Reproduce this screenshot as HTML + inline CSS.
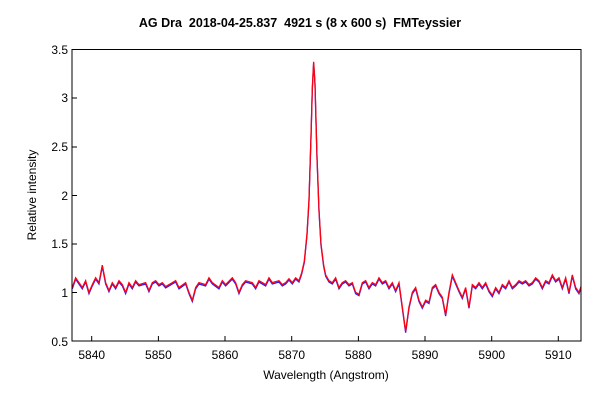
<!DOCTYPE html>
<html><head><meta charset="utf-8"><style>
body{margin:0;background:#fff;}
svg{display:block;font-family:"Liberation Sans",Arial,sans-serif;}
</style></head><body>
<svg width="600" height="400" viewBox="0 0 600 400">
<text x="300" y="27" text-anchor="middle" font-size="12.5" font-weight="bold" style="white-space:pre">AG Dra  2018-04-25.837  4921 s (8 x 600 s)  FMTeyssier</text>
<defs>
<clipPath id="c"><rect x="72" y="49" width="509" height="292"/></clipPath>
<polyline id="s" fill="none" vector-effect="non-scaling-stroke" points="0,1.05 0.5,1.15 1,1.1 1.5,1.05 2,1.12 2.5,1.0 3,1.08 3.5,1.15 4,1.1 4.5,1.28 5,1.1 5.5,1.02 6,1.1 6.5,1.05 7,1.12 7.5,1.08 8,1.0 8.5,1.1 9,1.05 9.5,1.12 10,1.08 11,1.1 11.5,1.02 12,1.1 12.5,1.12 13,1.08 13.5,1.1 14,1.06 15,1.1 15.5,1.12 16,1.05 17,1.1 17.5,1.0 18,0.92 18.5,1.05 19,1.1 20,1.08 20.5,1.15 21,1.1 22,1.05 22.5,1.12 23,1.08 24,1.15 24.5,1.1 25,1.0 25.5,1.08 26,1.12 27,1.1 27.5,1.05 28,1.12 29,1.08 29.5,1.15 30,1.1 31,1.12 31.5,1.08 32,1.1 32.5,1.14 33,1.1 33.5,1.15 34,1.12 34.4,1.2 34.8,1.32 35.2,1.6 35.5,1.95 35.8,2.6 36,3.1 36.2,3.37 36.4,3.15 36.7,2.4 37,1.85 37.3,1.5 37.7,1.28 38,1.18 38.5,1.12 39,1.1 39.5,1.15 40,1.05 40.5,1.1 41,1.12 41.5,1.08 42,1.1 42.5,1.0 43,0.98 43.5,1.1 44,1.12 44.5,1.05 45,1.1 45.5,1.08 46,1.15 46.5,1.1 47,1.12 47.5,1.05 48,1.1 48.5,1.02 49,1.1 49.5,0.85 50,0.6 50.5,0.85 51,1.0 51.5,1.05 52,0.92 52.5,0.85 53,0.92 53.5,0.9 54,1.05 54.5,1.08 55,1.0 55.5,0.95 56,0.77 56.5,1.0 57,1.18 57.5,1.1 58,1.02 58.5,0.95 59,1.05 59.5,0.85 60,1.08 60.5,1.05 61,1.1 61.5,1.05 62,1.1 62.5,1.02 63,0.97 63.5,1.05 64,1.0 64.5,1.08 65,1.05 65.5,1.12 66,1.05 66.5,1.08 67,1.12 67.5,1.1 68,1.12 68.5,1.08 69,1.1 69.5,1.15 70,1.12 70.5,1.05 71,1.12 71.5,1.1 72,1.18 72.5,1.12 73,1.15 73.5,1.05 74,1.15 74.5,1.0 75,1.18 75.5,1.05 76,1.0 76.5,1.1"/>
</defs>
<g clip-path="url(#c)">
<g transform="translate(72.3,391) scale(6.667,-97.3)"><use href="#s" stroke="#2020ff" stroke-width="1.3"/></g>
<g transform="translate(72.3,389.7) scale(6.667,-97.3)"><use href="#s" stroke="#ff0010" stroke-width="1.3"/></g>
</g>
<rect x="72" y="49.5" width="509" height="291.5" fill="none" stroke="#000" stroke-width="1"/>
<g stroke="#000" stroke-width="1">
<line x1="72" y1="98" x2="77" y2="98"/><line x1="72" y1="147" x2="77" y2="147"/><line x1="72" y1="195.5" x2="77" y2="195.5"/><line x1="72" y1="244" x2="77" y2="244"/><line x1="72" y1="292.5" x2="77" y2="292.5"/>
<line x1="91.7" y1="341" x2="91.7" y2="336"/><line x1="158.4" y1="341" x2="158.4" y2="336"/><line x1="225" y1="341" x2="225" y2="336"/><line x1="291.7" y1="341" x2="291.7" y2="336"/><line x1="358.4" y1="341" x2="358.4" y2="336"/><line x1="425" y1="341" x2="425" y2="336"/><line x1="491.7" y1="341" x2="491.7" y2="336"/><line x1="558.3" y1="341" x2="558.3" y2="336"/>
</g>
<g font-size="12" text-anchor="end">
<text x="68" y="54">3.5</text><text x="68" y="102">3</text><text x="68" y="151">2.5</text><text x="68" y="200">2</text><text x="68" y="248">1.5</text><text x="68" y="297">1</text><text x="68" y="346">0.5</text>
</g>
<g font-size="12" text-anchor="middle">
<text x="91.7" y="359">5840</text><text x="158.4" y="359">5850</text><text x="225" y="359">5860</text><text x="291.7" y="359">5870</text><text x="358.4" y="359">5880</text><text x="425" y="359">5890</text><text x="491.7" y="359">5900</text><text x="558.3" y="359">5910</text>
<text x="326" y="379">Wavelength (Angstrom)</text>
</g>
<text transform="translate(36,195) rotate(-90)" font-size="12" text-anchor="middle">Relative intensity</text>
</svg>
</body></html>
